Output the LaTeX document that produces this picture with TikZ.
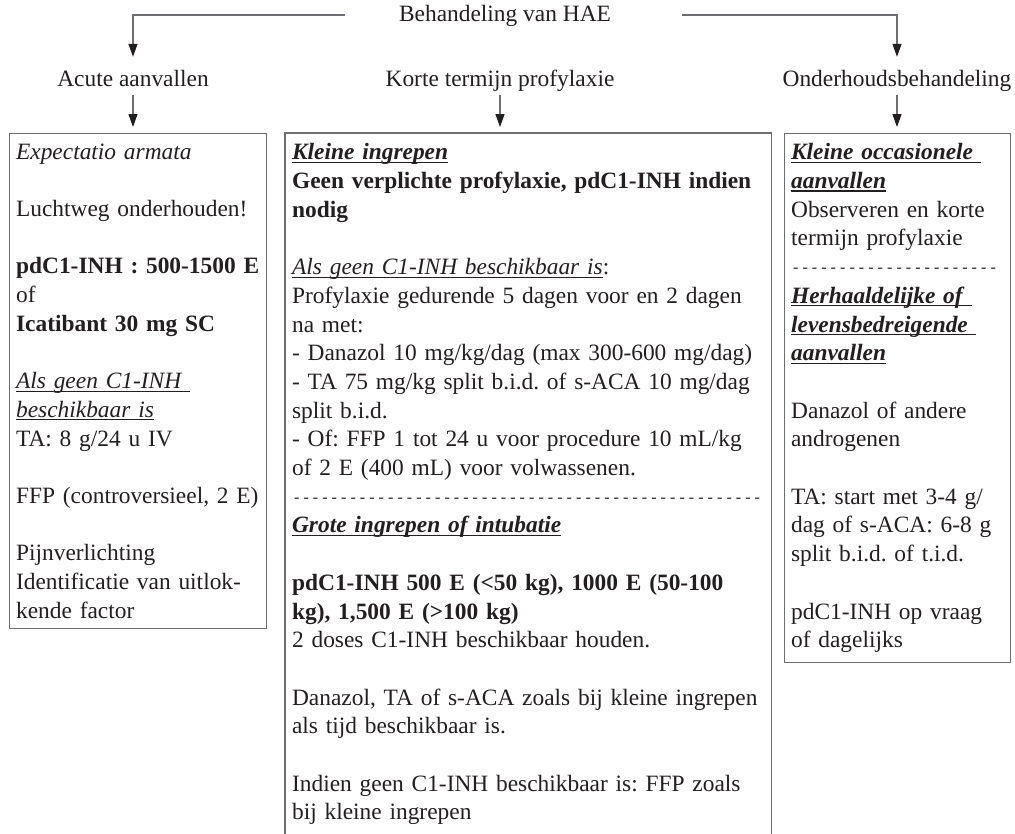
\documentclass[tikz,border=0pt]{standalone}
\usepackage{fontspec}
\setmainfont{Liberation Serif}
\usepackage{tikz}
\usetikzlibrary{positioning, arrows.meta}
\frenchspacing
\definecolor{textblack}{HTML}{231F20}
\definecolor{boxgray}{HTML}{6D6E71}
\newcommand{\bloktekst}{\fontsize{23.4}{28.7}\selectfont\hyphenpenalty=10000\relax}
\tikzstyle{line} = [draw=boxgray, line width=1.2pt, -{Triangle[length=13pt, width=9pt, color=textblack]}]
\tikzstyle{kop} = [font=\fontsize{23.4}{28.7}\selectfont, text=textblack,
    text height=17pt, text depth=5pt, inner xsep=2pt, inner ysep=4pt]
\tikzstyle{blok} = [rectangle, draw=boxgray, line width=1.2pt, anchor=north west,
    font=\bloktekst, text=textblack, align=left,
    inner xsep=6.5pt, inner ysep=10pt]
\newcommand{\ondr}[1]{\leavevmode\setbox0\hbox{#1}\rlap{\rule[-3pt]{\wd0}{1.1pt}}\box0}
\newcommand{\streep}{\leavevmode\hbox to\hsize{\leaders\hbox to 9.4pt{\hss\raisebox{2pt}{\fontsize{16}{16}\selectfont -}\hss}\hfill}}

\begin{document}
\begin{tikzpicture}[x=1pt, y=-1pt]
            \useasboundingbox (0,0) rectangle (1015,833);

            \node[kop] (titel) at (505,15) {Behandeling van HAE};
            \node[kop] (acuut) at (133,80) {Acute aanvallen};
            \node[kop] (kort) at (500,80) {Korte termijn profylaxie};
            \node[kop] (onderhoud) at (897,80) {Onderhoudsbehandeling};

            \node[blok, text width=244pt] (links) at (9,133) {%
                \textit{Expectatio armata}\\[28.7pt]
                Luchtweg onderhouden!\\[28.7pt]
                \textbf{pdC1-INH : 500-1500 E}\\
                of\\
                \textbf{Icatibant 30 mg SC}\\[28.7pt]
                \ondr{\textit{Als geen C1-INH\ }}\\
                \ondr{\textit{beschikbaar is}}\\
                TA: 8 g/24 u IV\\[28.7pt]
                FFP (controversieel, 2 E)\\[28.7pt]
                Pijnverlichting\\
                Identificatie van uitlok-\\
                kende factor};

            \node[blok, draw=none, text width=472pt] (midden) at (285,133) {%
                \ondr{\textbf{\textit{Kleine ingrepen}}}\\
                \textbf{Geen verplichte profylaxie, pdC1-INH indien}\\
                \textbf{nodig}\\[28.7pt]
                \ondr{\textit{Als geen C1-INH beschikbaar is}}:\\
                Profylaxie gedurende 5 dagen voor en 2 dagen\\
                na met:\\
                - Danazol 10 mg/kg/dag (max 300-600 mg/dag)\\
                - TA 75 mg/kg split b.i.d. of s-ACA 10 mg/dag\\
                split b.i.d.\\
                - Of: FFP 1 tot 24 u voor procedure 10 mL/kg\\
                of 2 E (400 mL) voor volwassenen.\\
                \streep\\
                \ondr{\textbf{\textit{Grote ingrepen of intubatie}}}\\[28.7pt]
                \textbf{pdC1-INH 500 E (<50 kg), 1000 E (50-100}\\
                \textbf{kg), 1,500 E (>100 kg)}\\
                2 doses C1-INH beschikbaar houden.\\[28.7pt]
                Danazol, TA of s-ACA zoals bij kleine ingrepen\\
                als tijd beschikbaar is.\\[28.7pt]
                Indien geen C1-INH beschikbaar is: FFP zoals\\
                bij kleine ingrepen};
            % open at the bottom, runs off the page
            \draw[boxgray, line width=1.2pt] ([yshift=-20pt]midden.south west) |- (midden.north) -| ([yshift=-20pt]midden.south east);

            \node[blok, text width=213pt] (rechts) at (784,133) {%
                \ondr{\textbf{\textit{Kleine occasionele\ }}}\\
                \ondr{\textbf{\textit{aanvallen}}}\\
                Observeren en korte\\
                termijn profylaxie\\
                \streep\\
                \ondr{\textbf{\textit{Herhaaldelijke of\ }}}\\
                \ondr{\textbf{\textit{levensbedreigende\ }}}\\
                \ondr{\textbf{\textit{aanvallen}}}\\[28.7pt]
                Danazol of andere\\
                androgenen\\[28.7pt]
                TA: start met 3-4 g/\\
                dag of s-ACA: 6-8 g\\
                split b.i.d. of t.i.d.\\[28.7pt]
                pdC1-INH op vraag\\
                of dagelijks};

            \path [line, shorten >=8pt] ([xshift=-52pt]titel.west) -| (acuut);
            \path [line, shorten >=8pt] ([xshift=69pt]titel.east) -| (onderhoud);
            \path [line, shorten >=6pt] (acuut) -- (acuut |- links.north);
            \path [line, shorten >=6pt] (kort) -- (kort |- midden.north);
            \path [line, shorten >=6pt] (onderhoud) -- (onderhoud |- rechts.north);
      \end{tikzpicture}
\end{document}
